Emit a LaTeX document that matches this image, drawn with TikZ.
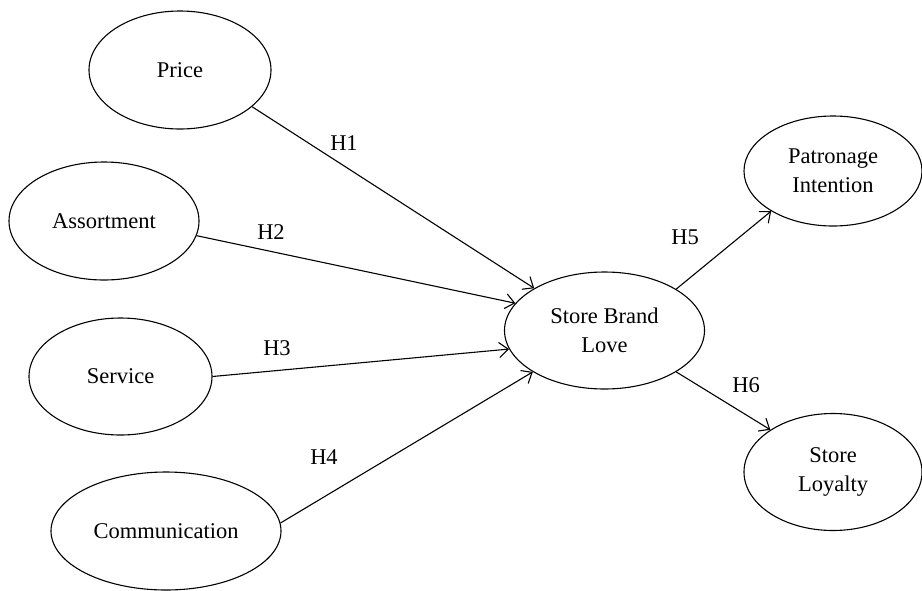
\documentclass[tikz,border=0pt]{standalone}
\usepackage{fontspec}
\setmainfont{Liberation Serif}
\usetikzlibrary{shapes.geometric,arrows.meta}
\begin{document}
\begin{tikzpicture}[x=1pt,y=-1pt,
  construct/.style={draw, ellipse, line width=1.1pt, inner sep=0pt, align=center,
    font=\fontsize{22.5}{29}\selectfont},
  hyp/.style={line width=1.1pt, -{Straight Barb[length=9pt,width=15pt,line width=1.1pt]}},
  lab/.style={font=\fontsize{22.5}{29}\selectfont, inner sep=0pt}]
\useasboundingbox (0,0) rectangle (922,590);
\node[construct, minimum width=182pt, minimum height=118pt] (price) at (180,70) {Price};
\node[construct, minimum width=190pt, minimum height=118pt] (assort) at (104,221) {Assortment};
\node[construct, minimum width=183pt, minimum height=117pt] (service) at (120.5,376.5) {Service};
\node[construct, minimum width=230pt, minimum height=118pt] (comm) at (166,531) {Communication};
\node[construct, minimum width=200pt, minimum height=117pt] (sbl) at (604.5,330.5) {Store Brand\\Love};
\node[construct, minimum width=178pt, minimum height=110pt] (pat) at (833,171) {Patronage\\Intention};
\node[construct, minimum width=178pt, minimum height=117pt] (loy) at (833,472) {Store\\Loyalty};
\draw[hyp] (price.-27) -- (sbl.149);
\draw[hyp] (assort.-9.6) -- (sbl.163);
\draw[hyp] (service.0) -- (sbl.191);
\draw[hyp] (comm.4) -- (sbl.210);
\draw[hyp] (sbl.30.4) -- (pat.213.5);
\draw[hyp] (sbl.-30.4) -- (loy.146);
\node[lab] (h1) at (344,143) {H1};
\node[lab] (h2) at (271,232) {H2};
\node[lab] (h3) at (277,348) {H3};
\node[lab] (h4) at (324,457) {H4};
\node[lab] (h5) at (685,237) {H5};
\node[lab] (h6) at (746,385) {H6};
\end{tikzpicture}
\end{document}
